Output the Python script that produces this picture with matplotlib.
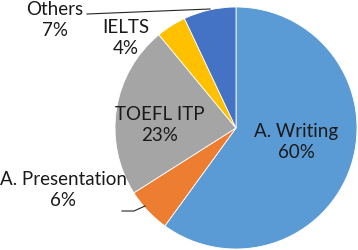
import matplotlib
matplotlib.use("Agg")
import matplotlib.pyplot as plt

categories = ["A. Writing", "A. Presentation", "TOEFL ITP", "IELTS", "Others"]
values = [60, 6, 23, 4, 7]
colors = ["#5B9BD5", "#ED7D31", "#A5A5A5", "#FFC000", "#4472C4"]

W, H = 358, 250
cx, cy, r = 236, 122, 121  # pixel centre (from bottom) and radius

fig = plt.figure(figsize=(W / 100, H / 100), dpi=100)
ax = fig.add_axes([0, 0, 1, 1])
wedges, _ = ax.pie(values, colors=colors, startangle=90, counterclock=False,
                   wedgeprops=dict(edgecolor="white", linewidth=0.6))
ax.set_aspect("auto")
ax.set_xlim(-cx / r, (W - cx) / r)
ax.set_ylim(-cy / r, (H - cy) / r)
ax.axis("off")

font = dict(family=["Lato", "DejaVu Sans"], fontsize=13.5, color="#1a1a1a",
            ha="center", va="center", linespacing=1.3)

def px(x, y):
    return (x / W, 1 - y / H)

label_pos = {
    "A. Writing": (296, 142),
    "A. Presentation": (63, 190),
    "TOEFL ITP": (160, 125),
    "IELTS": (126, 38),
    "Others": (55, 20),
}
for cat, v in zip(categories, values):
    ax.text(*px(*label_pos[cat]), f"{cat}\n{v}%", transform=fig.transFigure, **font)

# leader lines
ax.plot([87 / W, 210 / W], [1 - 14 / H, 1 - 9 / H], transform=fig.transFigure,
        color="#262626", lw=0.8)
ax.plot([122 / W, 134 / W, 145 / W], [1 - 211 / H, 1 - 211 / H, 1 - 206 / H],
        transform=fig.transFigure, color="#262626", lw=0.8)

fig.savefig("out.png", dpi=100)
